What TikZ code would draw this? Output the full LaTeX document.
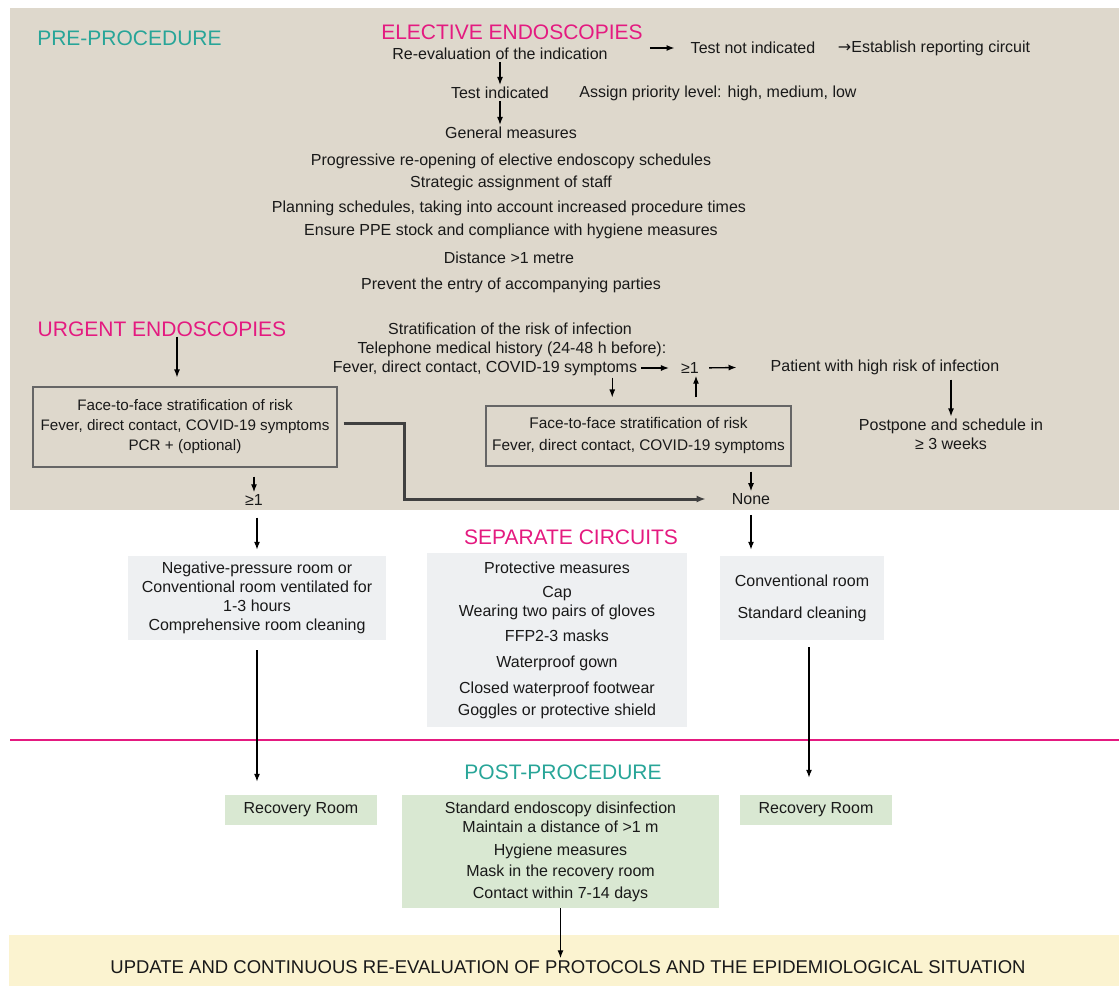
\documentclass[tikz,border=0pt]{standalone}
\usepackage{fontspec}
\setmainfont{Liberation Sans}
\newfontfamily\arrowfont{DejaVu Sans}
\usetikzlibrary{arrows.meta,positioning}
\definecolor{sandbg}{RGB}{222,216,204}
\definecolor{boxgray}{RGB}{238,240,242}
\definecolor{boxgreen}{RGB}{217,232,210}
\definecolor{bandyellow}{RGB}{251,243,208}
\definecolor{headpink}{RGB}{228,26,128}
\definecolor{headteal}{RGB}{40,165,152}
\tikzset{
  txt/.style={font=\fontsize{16}{19}\selectfont, align=center, inner sep=2pt, text=black!90},
  head/.style={font=\fontsize{21}{25}\selectfont, inner sep=0pt},
  pinkhead/.style={head, text=headpink},
  tealhead/.style={head, text=headteal},
  riskbox/.style={txt, rectangle, draw=black!60, line width=1.1pt},
  greybox/.style={txt, rectangle, fill=boxgray},
  greenbox/.style={txt, rectangle, fill=boxgreen},
}

\begin{document}
\begin{tikzpicture}[
  x=1pt, y=-1pt,
  flow/.style={-{Latex[length=8pt,width=6pt]}, draw=black, line width=1.3pt},
  bigflow/.style={-{Latex[length=9pt,width=7pt]}, draw=black!75, line width=3pt},
]
\useasboundingbox (0,0) rectangle (1119,986);
% backgrounds
\fill[sandbg] (10,8) rectangle (1119,510);
\draw[headpink, line width=2.2pt] (10,740) -- (1119,740);
\node[fill=bandyellow, minimum width=1110pt, minimum height=51pt, inner sep=0pt] (band) at (564,960.5) {};
% headings
\node[tealhead] (pre) at (129.5,38) {PRE-PROCEDURE};
\node[pinkhead] (elective) at (512,32) {ELECTIVE ENDOSCOPIES};
\node[pinkhead] (urgent) at (162,329) {URGENT ENDOSCOPIES};
\node[pinkhead] (separate) at (571,537) {SEPARATE CIRCUITS};
\node[tealhead] (post) at (563,772) {POST-PROCEDURE};
% elective endoscopies
\node[txt] (reeval)   at (500,54)  {Re-evaluation of the indication};
\node[txt] (testno)   at (753,48)  {Test not indicated};
\node[txt] (report)   at (934,48)  {{\arrowfont →}Establish reporting circuit};
\node[txt] (testind)  at (500,93)  {Test indicated};
\node[txt] (priority) at (718,93)  {Assign priority level: high, medium, low};
\node[txt] (genmeas)  at (511,133) {General measures};
\node[txt] (reopen)   at (511,161) {Progressive re-opening of elective endoscopy schedules};
\node[txt] (staff)    at (511,183) {Strategic assignment of staff};
\node[txt] (planning) at (509,208) {Planning schedules, taking into account increased procedure times};
\node[txt] (ppe)      at (511,231) {Ensure PPE stock and compliance with hygiene measures};
\node[txt] (distance) at (509,258) {Distance >1 metre};
\node[txt] (prevent)  at (511,285) {Prevent the entry of accompanying parties};
% risk stratification
\node[txt] (strat)    at (510,329) {Stratification of the risk of infection};
\node[txt] (phone)    at (512,349) {Telephone medical history (24-48 h before):};
\node[txt] (fevtel)   at (485,368) {Fever, direct contact, COVID-19 symptoms};
\node[txt] (ge1)      at (690,368) {≥1};
\node[txt] (patient)  at (885,367) {Patient with high risk of infection};
\node[txt] (postpone) at (951,434) {Postpone and schedule in\\≥ 3 weeks};
\node[riskbox, minimum width=304pt, minimum height=80pt, font=\fontsize{15.2}{20}\selectfont] (boxL) at (185,427)
  {Face-to-face stratification of risk\\Fever, direct contact, COVID-19 symptoms\\PCR + (optional)};
\node[riskbox, minimum width=305pt, minimum height=60pt, font=\fontsize{15.4}{22}\selectfont] (boxM) at (638.5,436)
  {Face-to-face stratification of risk\\Fever, direct contact, COVID-19 symptoms};
\node[txt] (geL)  at (254,500) {≥1};
\node[txt] (none) at (751,499) {None};
% separate circuits
\node[greybox, minimum width=258pt, minimum height=84pt] (boxNeg) at (257,598)
  {Negative-pressure room or\\Conventional room ventilated for\\1-3 hours\\Comprehensive room cleaning};
\node[greybox, minimum width=260pt, minimum height=174pt] (boxProt) at (557,640)
  {Protective measures\\[5pt]Cap\\Wearing two pairs of gloves\\[6pt]FFP2-3 masks\\[7pt]Waterproof gown\\[7pt]Closed waterproof footwear\\[3pt]Goggles or protective shield};
\node[greybox, minimum width=164pt, minimum height=84pt] (boxConv) at (802,598)
  {Conventional room\\[13pt]Standard cleaning};
% post-procedure
\node[greenbox, minimum width=152pt, minimum height=30pt] (rrL) at (301,810) {Recovery Room};
\node[greenbox, minimum width=317pt, minimum height=113pt] (postbox) at (560.5,851.5)
  {Standard endoscopy disinfection\\Maintain a distance of >1 m\\[4pt]Hygiene measures\\[2pt]Mask in the recovery room\\[3pt]Contact within 7-14 days};
\node[greenbox, minimum width=152pt, minimum height=30pt] (rrR) at (816,810) {Recovery Room};
\node[txt, font=\fontsize{18.5}{22}\selectfont] (update) at (568,967)
  {UPDATE AND CONTINUOUS RE-EVALUATION OF PROTOCOLS AND THE EPIDEMIOLOGICAL SITUATION};
% flows
\draw[flow] (reeval.south) -- (testind.north);
\draw[flow] (testind.south) -- (testind.south |- genmeas.north);
\draw[flow, shorten <=40pt, shorten >=14pt] (reeval.east |- testno.west) -- (testno.west);
\draw[flow, shorten >=9pt] ([xshift=15pt]urgent.south) -- ([xshift=15pt]urgent.south |- boxL.north);
\draw[flow, shorten <=9pt] (geL.north |- boxL.south) -- (geL.north);
\draw[bigflow, shorten >=24pt] ([xshift=6pt,yshift=4pt]boxL.east) -- ++(61,0) |- (none.west);
\draw[flow, shorten <=2pt, shorten >=10pt] (fevtel.east) -- (ge1.west);
\draw[flow, shorten <=8pt, shorten >=32pt] (ge1.east) -- (patient.west);
\draw[flow, shorten >=8pt] ([xshift=-27pt]fevtel.south east) -- ([xshift=-27pt]fevtel.south east |- boxM.north);
\draw[flow, shorten <=8pt] ([xshift=6pt]ge1.south |- boxM.north) -- ([xshift=6pt]ge1.south);
\draw[flow, shorten <=3pt] (postpone.north |- patient.south) -- (postpone.north);
\draw[flow, shorten <=5pt] (none.north |- boxM.south) -- (none.north);
\draw[flow, shorten <=10pt, shorten >=6pt] (geL.south -| boxNeg.north) -- (boxNeg.north);
\draw[flow, shorten <=8pt, shorten >=6pt] (none.south) -- (none.south |- boxConv.north);
\draw[flow, shorten <=10pt, shorten >=13pt] (boxNeg.south) -- (boxNeg.south |- rrL.north);
\draw[flow, shorten <=7pt, shorten >=17pt] ([xshift=7pt]boxConv.south) -- ([xshift=7pt]boxConv.south |- rrR.north);
\draw[flow] (postbox.south) -- (postbox.south |- update.north);
\end{tikzpicture}
\end{document}
